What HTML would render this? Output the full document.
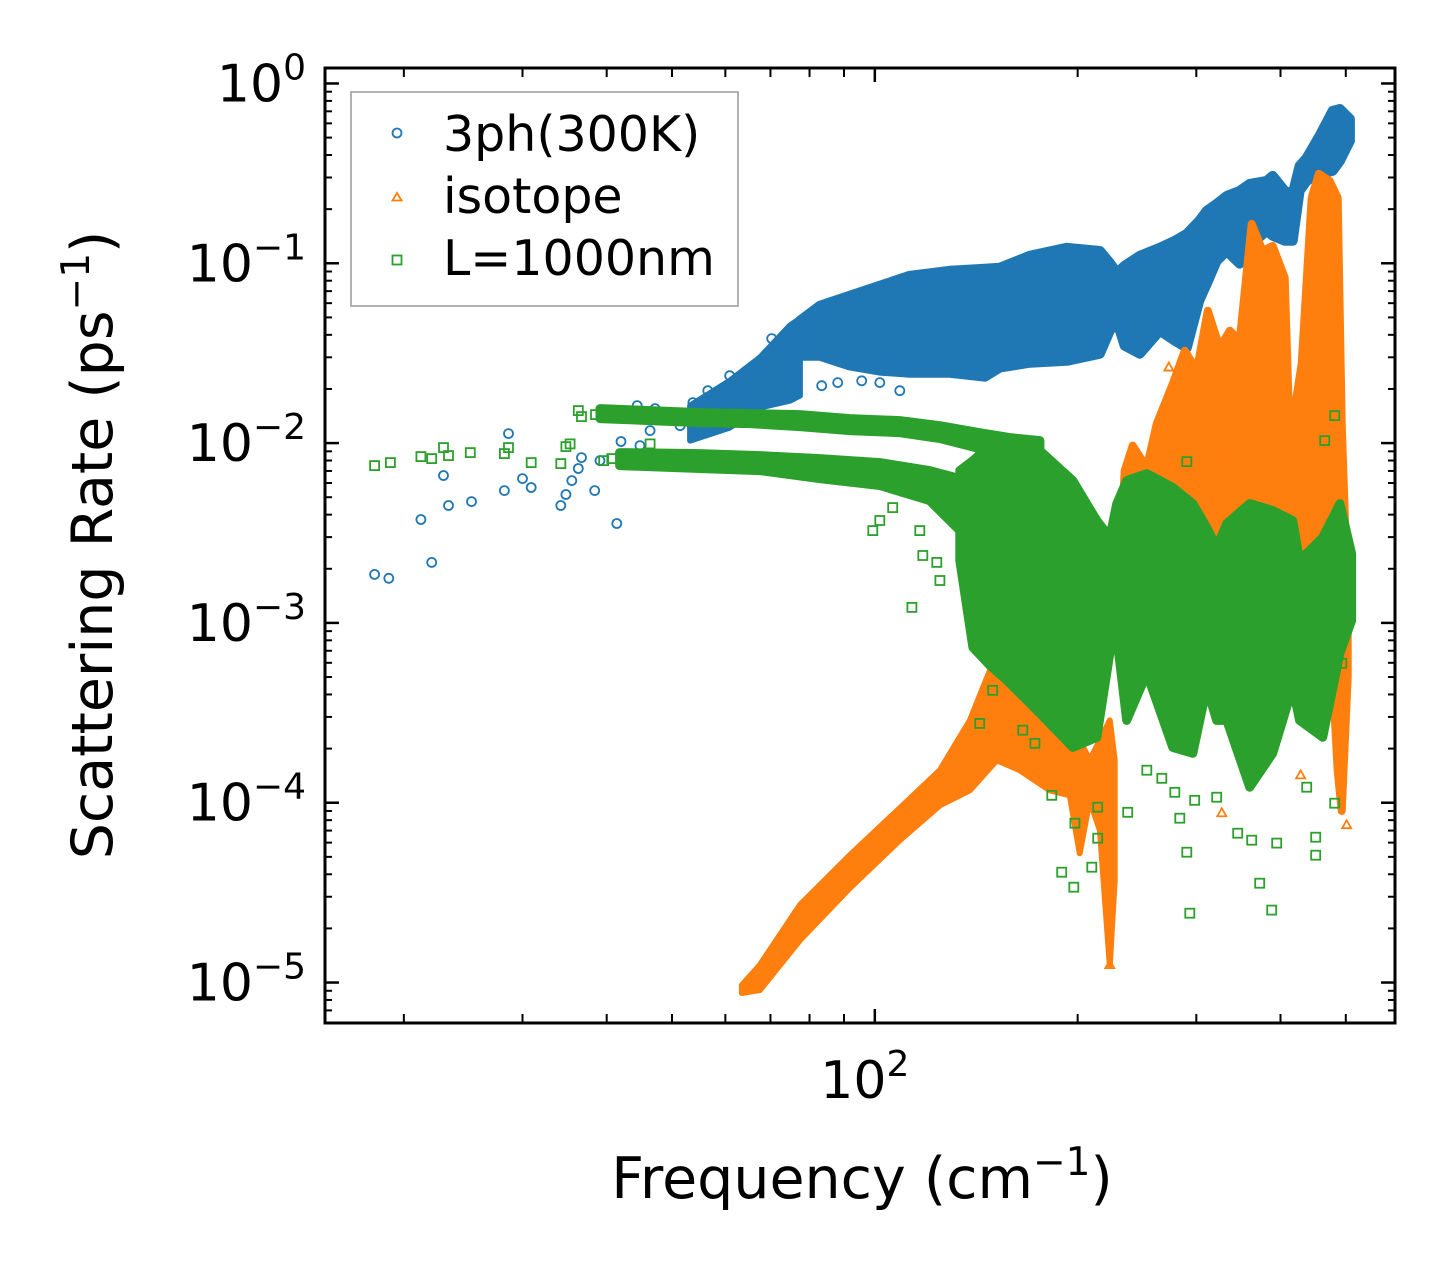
<!DOCTYPE html>
<html><head><meta charset="utf-8"><style>
html,body{margin:0;padding:0;background:#fff;}
svg{display:block;font-family:"DejaVu Sans","Liberation Sans",sans-serif;}
</style></head><body>
<svg id="chart" width="1455" height="1273" viewBox="0 0 1455 1273" xmlns="http://www.w3.org/2000/svg">
<rect width="1455" height="1273" fill="#fff"/>
<g id="marks"></g>
<g id="axes"></g>
<text x="862" y="1198" font-size="57" text-anchor="middle">Frequency (cm<tspan dy="-23" font-size="39">−1</tspan><tspan dy="23">)</tspan></text>
<text transform="translate(112,545) rotate(-90)" font-size="57" text-anchor="middle">Scattering Rate (ps<tspan dy="-23" font-size="39">−1</tspan><tspan dy="23">)</tspan></text>
<g>
<rect x="351" y="92" width="387" height="214" fill="#fff" fill-opacity="0.8" stroke="#999" stroke-width="1.5"/>
<g>
<circle cx="397" cy="133" r="4.5" fill="none" stroke="#1f77b4" stroke-width="1.8"/>
<text x="443" y="151" font-size="49">3ph(300K)</text></g>
<g>
<polygon points="397,193 401.5,200.5 392.5,200.5" fill="none" stroke="#ff7f0e" stroke-width="1.8"/>
<text x="443" y="213" font-size="49">isotope</text></g>
<g>
<rect x="392.5" y="255.5" width="9" height="9" fill="none" stroke="#2ca02c" stroke-width="1.8"/>
<text x="443" y="275" font-size="49">L=1000nm</text></g>
</g>
</svg>
<script>
// ---- data ----
const blueRamp = [[53.2,0.01032,0.01616],[60.9,0.0122,0.0222],[67.5,0.01575,0.0299],[74.8,0.01722,0.045],[77.4,0.01836,0.0492]];
const blueBand = [[74.8,0.0326,0.0371],[77.4,0.0306,0.0479],[82.9,0.0306,0.0581],[91.8,0.0270,0.0660],[101.7,0.0253,0.0750],[112.7,0.0246,0.0852],[129.2,0.0246,0.0908],[145.6,0.0234,0.0932],[153.2,0.0263,0.0944],[169.8,0.0280,0.110],[192.7,0.0287,0.122],[215.8,0.0314,0.117],[223.2,0.0422,0.1006],[228.6,0.0479,0.0886],[234.9,0.0348,0.0969],[247.3,0.0314,0.110],[264.8,0.0422,0.122],[278.7,0.0371,0.1334],[290.4,0.0339,0.1458],[303,0.0619,0.172],[311,0.0769,0.1957],[321.7,0.1032,0.2141],[333,0.117,0.237],[348,0.0994,0.2527],[360,0.125,0.2764],[381.6,0.1516,0.287],[389.5,0.1422,0.306],[405.8,0.1334,0.2527],[417.1,0.1334,0.2433],[427,0.2527,0.348],[437.5,0.287,0.3855],[457,0.3143,0.511],[478,0.3265,0.703],[490,0.371,0.7215],[507,0.479,0.635]];
const bluePtsF = [18.1,19.0,21.2,22.0,22.9,23.3,25.2,28.2,28.6,30.0,30.9,34.2,34.8,35.5,36.3,36.7,38.4,41.4,42.0,44.4,47.2,48.8,51.4,53.7,56.5,59.3,63.1,67.5,70.3,73.5,78.7,83.4,88.1,95.6,101.7,105.3,46.4,55.0,60.9,65.2,39.1,44.8,80.6,76.1,108.9];
const bluePtsR = [0.00186,0.00177,0.00376,0.00217,0.0066,0.0045,0.00473,0.00544,0.0113,0.00635,0.00566,0.0045,0.00518,0.00619,0.00722,0.0083,0.00544,0.00357,0.0102,0.01616,0.01555,0.01368,0.0125,0.0168,0.01957,0.01812,0.02086,0.0253,0.0381,0.0326,0.0422,0.02086,0.0217,0.0222,0.0217,0.0287,0.01173,0.01477,0.0237,0.01836,0.00799,0.00968,0.0348,0.0253,0.01957];
const orangeBandA = [[63.5,8.74e-6,9.68e-6],[67.5,9.08e-6,1.25e-5],[77.4,1.72e-5,2.70e-5],[91.8,3.35e-5,5.11e-5],[108.9,6.19e-5,9.32e-5],[124.9,9.68e-5,1.516e-4],[138.4,1.173e-4,2.87e-4],[151.7,1.722e-4,6.77e-4],[164.1,1.516e-4,5.11e-4],[181.8,1.173e-4,3.71e-4],[194.7,1.10e-4,2.87e-4],[201.4,5.24e-5,2.224e-4],[208.4,1.032e-4,1.722e-4],[215.8,7.03e-5,2.224e-4],[223.2,1.25e-5,2.87e-4],[227.0,3.71e-5,1.722e-4]];
const orangeBandB = [[229.3,1.0e-3,1.334e-3],[234.9,1.0e-3,7.03e-3],[241.4,1.0e-3,9.68e-3],[253.3,1.0e-3,7.31e-3],[262.1,1.0e-3,0.01283],[276.8,1.0e-3,0.0214],[288.4,1.0e-3,0.0326],[300.5,1.0e-3,0.0253],[312.0,1.0e-3,0.0545],[325,1.0e-3,0.0339],[336.4,1.0e-3,0.0422],[348,1.0e-3,0.0371],[362.5,1.0e-3,0.1657],[376.4,1.0e-3,0.117],[389.5,1.0e-3,0.125],[405.8,4.5e-4,0.0831],[412.8,4.79e-4,0.01032],[430.0,8.0e-4,0.0276],[445.0,1.0e-3,0.2312],[456,1.0e-3,0.3143],[473.2,1.0e-3,0.287],[486.4,1.5e-4,0.2312],[493.1,9.0e-5,0.01283],[503.3,5.0e-4,1.334e-3]];
const orangePtsF = [273.1,329.5,428.5,428.5,501.5,327.3,223.2];
const orangePtsR = [0.0263,9.44e-3,4.06e-4,1.42e-4,7.5e-5,8.74e-5,1.25e-5];
const greenUpper = [[39.1,0.01368,0.01555],[46.4,0.01334,0.01516],[55.0,0.0130,0.01477],[65.2,0.01283,0.01459],[77.4,0.01235,0.0144],[91.8,0.01173,0.01368],[108.9,0.01143,0.01334],[124.9,0.0106,0.0125],[143.1,0.00932,0.01143],[158.6,0.00885,0.01073],[175.8,0.00703,0.01032]];
const greenLower = [[41.8,0.0075,0.00885],[55.0,0.00722,0.00874],[67.5,0.00703,0.00852],[82.9,0.00635,0.0082],[101.7,0.00581,0.00779],[120.6,0.00479,0.00703],[133.7,0.00326,0.00635]];
const greenDense = [[133.7,2.22e-3,7.03e-3],[139.8,7.31e-4,7.99e-3],[148.1,5.81e-4,9.68e-3],[157.0,4.79e-4,9.68e-3],[175.8,3.14e-4,9.08e-3],[196.7,2.03e-4,6.19e-3],[213.5,2.31e-4,3.71e-3],[223.2,6.77e-4,2.99e-3],[228.6,8.31e-4,4.61e-3],[236.5,2.87e-4,6.19e-3],[253.3,5.24e-4,6.77e-3],[276.8,2.03e-4,5.66e-3],[296.4,1.884e-4,4.61e-3],[311,4.38e-4,3.39e-3],[321.7,2.87e-4,2.63e-3],[333,2.87e-4,3.57e-3],[360,1.22e-4,4.61e-3],[389.5,1.884e-4,4.22e-3],[417.1,4.38e-4,3.71e-3],[427,2.87e-4,2.22e-3],[462.1,2.31e-4,2.99e-3],[490,6.77e-4,4.61e-3],[510.1,1.032e-3,2.43e-3]];
const greenPtsF = [18.1,19.1,21.2,22.0,22.9,23.3,25.1,28.2,28.6,30.9,34.2,34.8,35.3,36.3,36.7,38.5,39.6,40.7,42.4,43.6,44.8,46.4,48.3,99.3,101.7,106.3,117.8,123.6,113.5,116.6,124.9,137.4,149.6,143.1,165.8,172.8,183.1,198.1,189.4,197.4,209.9,214.2,214.2,237.3,253.3,266.6,278.7,283.5,290.4,293.4,298.4,321.7,345.6,362.5,394.9,372.6,388.2,451.1,451.1,437.5,481.4,493.1,290.4,481.4,465.3];
const greenPtsR = [0.0075,0.00779,0.00841,0.0082,0.00944,0.00852,0.00885,0.00874,0.00944,0.00779,0.00769,0.00956,0.0099,0.01516,0.01404,0.0144,0.00799,0.0082,0.00852,0.00779,0.01422,0.0099,0.00799,3.26e-3,3.71e-3,4.38e-3,2.37e-3,2.17e-3,1.22e-3,3.26e-3,1.722e-3,2.09e-3,4.22e-4,2.76e-4,2.53e-4,2.14e-4,1.10e-4,7.69e-5,4.11e-5,3.39e-5,4.38e-5,6.35e-5,9.44e-5,8.85e-5,1.516e-4,1.368e-4,1.143e-4,8.2e-5,5.31e-5,2.43e-5,1.032e-4,1.073e-4,6.77e-5,6.19e-5,5.96e-5,3.57e-5,2.53e-5,6.43e-5,5.11e-5,1.22e-4,9.94e-5,5.96e-4,7.89e-3,0.01422,0.01032];
const yTickExps = [0,-1,-2,-3,-4,-5];
const yTickLabels = ["0","−1","−2","−3","−4","−5"];
const xMinorTicks = [20,30,40,50,60,70,80,90,200,300,400,500];
const xMajorTicks = [100];

// ---- axes ----
const X0=325,X1=1395,Y0=68,Y1=1023;
const LX0=1.184,LX1=2.772,LY0=0.086,LY1=-5.225;
const NS="http://www.w3.org/2000/svg";
function xs(f){return X0+(Math.log10(f)-LX0)/(LX1-LX0)*(X1-X0);}
function ys(r){return Y0+(LY0-Math.log10(r))/(LY0-LY1)*(Y1-Y0);}
const marks=document.getElementById('marks');
const axes=document.getElementById('axes');
function mk(tag,attrs,parent){const e=document.createElementNS(NS,tag);for(const k in attrs)e.setAttribute(k,attrs[k]);parent.appendChild(e);return e;}

function band(arr,color,sw,name){
  const top=arr.map(d=>xs(d[0]).toFixed(1)+','+ys(d[2]).toFixed(1));
  const bot=arr.slice().reverse().map(d=>xs(d[0]).toFixed(1)+','+ys(d[1]).toFixed(1));
  const p=mk('polygon',{points:top.concat(bot).join(' '),fill:color,stroke:color,'stroke-width':sw,'stroke-linejoin':'round'},marks);
  
  
}
function circles(F,R,name){
  for(let i=0;i<F.length;i++){
    const c=mk('circle',{cx:xs(F[i]).toFixed(1),cy:ys(R[i]).toFixed(1),r:4.5,fill:'none',stroke:'#1f77b4','stroke-width':1.8},marks);
    
    
  }
}
function tris(F,R,name){
  for(let i=0;i<F.length;i++){
    const x=xs(F[i]),y=ys(R[i]);
    const t=mk('polygon',{points:`${x},${y-5} ${x+4.5},${y+3} ${x-4.5},${y+3}`,fill:'none',stroke:'#ff7f0e','stroke-width':1.8},marks);
    
    
  }
}
function squares(F,R,name){
  for(let i=0;i<F.length;i++){
    const x=xs(F[i]),y=ys(R[i]);
    const s=mk('rect',{x:(x-4.5).toFixed(1),y:(y-4.5).toFixed(1),width:9,height:9,fill:'none',stroke:'#2ca02c','stroke-width':1.8},marks);
    
    
  }
}
band(blueRamp,'#1f77b4',6,'3ph-ramp-band');
band(blueBand,'#1f77b4',10,'3ph-dense-band');
circles(bluePtsF,bluePtsR,'3ph-point');
band(orangeBandA,'#ff7f0e',6,'isotope-band-low');
band(orangeBandB,'#ff7f0e',8,'isotope-band-high');
tris(orangePtsF,orangePtsR,'isotope-point');
band(greenUpper,'#2ca02c',9,'boundary-upper-branch');
band(greenLower,'#2ca02c',9,'boundary-lower-branch');
band(greenDense,'#2ca02c',9,'boundary-dense-band');
squares(greenPtsF,greenPtsR,'boundary-point');

// frame
const fr=mk('rect',{x:X0,y:Y0,width:X1-X0,height:Y1-Y0,fill:'none',stroke:'#000','stroke-width':3},axes);


// y ticks
for(let i=0;i<yTickExps.length;i++){
  const e=yTickExps[i];const y=ys(Math.pow(10,e));
  for(const side of [0,1]){
    const x=side?X1:X0,d=side?-14:14;
    const l=mk('line',{x1:x,y1:y,x2:x+d,y2:y,stroke:'#000','stroke-width':2.5},axes);
    
    
  }
  const t=mk('text',{x:306,y:y+18,'font-size':52,'text-anchor':'end'},axes);
  
  
  t.appendChild(document.createTextNode('10'));
  const s=mk('tspan',{dy:-22,'font-size':36},t);s.textContent=yTickLabels[i];
}
for(let e=-6;e<=0;e++){
  for(let m=2;m<=9;m++){
    const v=m*Math.pow(10,e);const y=ys(v);
    if(y<Y0+1||y>Y1-1)continue;
    for(const side of [0,1]){
      const x=side?X1:X0,d=side?-7:7;
      const l=mk('line',{x1:x,y1:y,x2:x+d,y2:y,stroke:'#000','stroke-width':2},axes);
      
      
    }
  }
}
for(const v of xMinorTicks){
  const x=xs(v);
  for(const side of [0,1]){
    const y=side?Y0:Y1,d=side?9:-9;
    const l=mk('line',{x1:x,y1:y,x2:x,y2:y+d,stroke:'#000','stroke-width':2},axes);
    
    
  }
}
for(const v of xMajorTicks){
  const x=xs(v);
  for(const side of [0,1]){
    const y=side?Y0:Y1,d=side?14:-14;
    const l=mk('line',{x1:x,y1:y,x2:x,y2:y+d,stroke:'#000','stroke-width':2.5},axes);
    
    
  }
  const t=mk('text',{x:x-10,y:1098,'font-size':52,'text-anchor':'middle'},axes);
  
  
  t.appendChild(document.createTextNode('10'));
  const s=mk('tspan',{dy:-22,'font-size':36},t);s.textContent=String(Math.round(Math.log10(v)));
}
</script>
</body></html>
